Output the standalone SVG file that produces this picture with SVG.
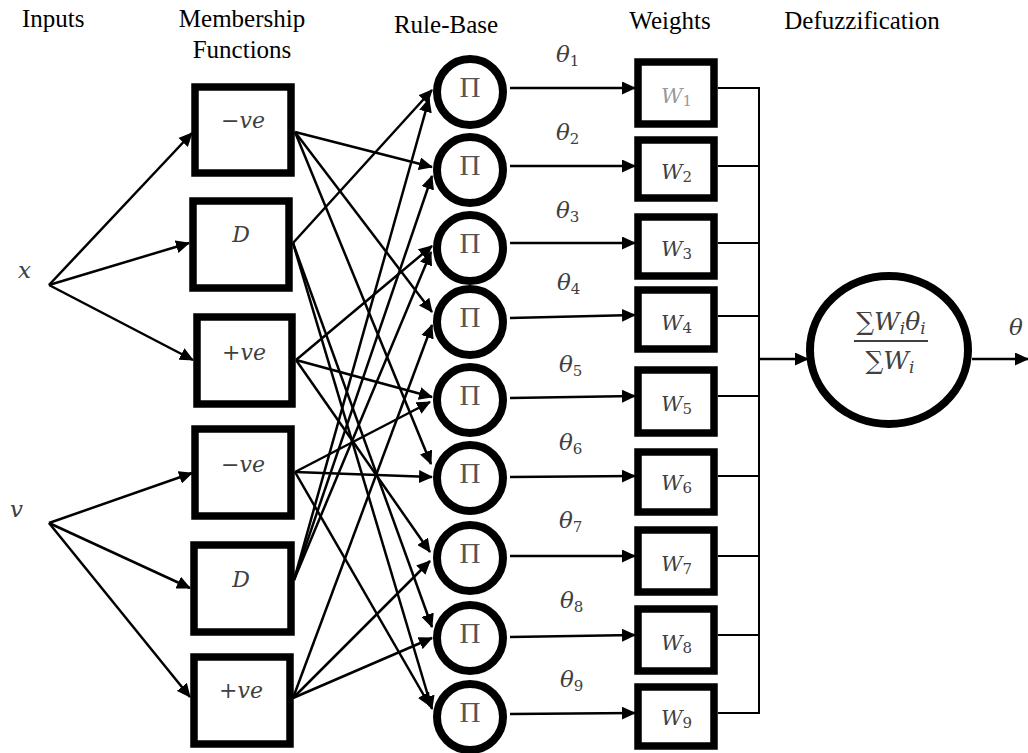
<svg xmlns="http://www.w3.org/2000/svg" width="1028" height="753" viewBox="0 0 1028 753">
<style>
.hdr{font-family:"Liberation Serif","Times New Roman",serif;font-size:25px;fill:#000}
.m{font-family:"DejaVu Serif",serif;font-style:italic;font-size:21px;fill:#404040}
.th{font-family:"DejaVu Serif",serif;font-style:italic;font-size:23px;fill:#404040}
.fm{font-family:"DejaVu Serif",serif;font-style:italic;font-size:25px;fill:#404040;text-anchor:middle}
.mc{font-family:"DejaVu Serif",serif;font-style:italic;font-size:22px;fill:#404040;text-anchor:middle}
.sub{font-size:15px;font-style:normal}
.subi{font-size:17px}
.pi{font-family:"Liberation Serif","Times New Roman",serif;font-size:29px;fill:#555;text-anchor:middle}
.box{fill:#fff;stroke:#000;stroke-width:7.5}
.node{fill:#fff;stroke:#000;stroke-width:8}
.ln{stroke:#000;stroke-width:2.5;fill:none;marker-end:url(#ah)}
.bus{stroke:#000;stroke-width:2;fill:none}
</style>
<defs>
<marker id="ah" markerUnits="userSpaceOnUse" markerWidth="14" markerHeight="13" refX="13" refY="6.5" orient="auto">
<path d="M0,0 L14,6.5 L0,13 z" fill="#000"/>
</marker>
</defs>
<rect width="1028" height="753" fill="#fff"/>
<g id="headers">
<text class="hdr" x="22" y="27">Inputs</text>
<text class="hdr" x="242" y="27" text-anchor="middle">Membership</text>
<text class="hdr" x="242" y="58" text-anchor="middle">Functions</text>
<text class="hdr" x="446" y="33" text-anchor="middle">Rule-Base</text>
<text class="hdr" x="670" y="29" text-anchor="middle">Weights</text>
<text class="hdr" x="862" y="29" text-anchor="middle">Defuzzification</text>
</g>
<g id="input-x"><text class="th" x="18" y="278">x</text></g>
<g id="input-v"><text class="th" x="10" y="517">v</text></g>
<g id="connectors">
<line class="ln" x1="49" y1="285" x2="192" y2="133"/>
<line class="ln" x1="49" y1="285" x2="189" y2="243"/>
<line class="ln" x1="49" y1="285" x2="193" y2="360"/>
<line class="ln" x1="49" y1="523" x2="192" y2="473"/>
<line class="ln" x1="49" y1="523" x2="190" y2="588"/>
<line class="ln" x1="49" y1="523" x2="190" y2="697"/>
<line class="ln" x1="295" y1="132" x2="432" y2="167"/>
<line class="ln" x1="295" y1="132" x2="432" y2="312"/>
<line class="ln" x1="295" y1="132" x2="431" y2="464"/>
<line class="ln" x1="293" y1="243" x2="432" y2="90"/>
<line class="ln" x1="293" y1="243" x2="432" y2="627"/>
<line class="ln" x1="293" y1="243" x2="432" y2="709"/>
<line class="ln" x1="296" y1="360" x2="432" y2="246"/>
<line class="ln" x1="296" y1="360" x2="432" y2="397"/>
<line class="ln" x1="296" y1="360" x2="430" y2="552"/>
<line class="ln" x1="295" y1="472" x2="430" y2="402"/>
<line class="ln" x1="295" y1="472" x2="432" y2="477"/>
<line class="ln" x1="295" y1="472" x2="430" y2="706"/>
<line class="ln" x1="294" y1="580" x2="429" y2="99"/>
<line class="ln" x1="294" y1="580" x2="432" y2="176"/>
<line class="ln" x1="294" y1="580" x2="431" y2="252"/>
<line class="ln" x1="293" y1="698" x2="432" y2="325"/>
<line class="ln" x1="293" y1="698" x2="430" y2="561"/>
<line class="ln" x1="293" y1="698" x2="432" y2="638"/>
<line class="ln" x1="510" y1="88" x2="635" y2="88"/>
<line class="ln" x1="510" y1="166" x2="635" y2="166"/>
<line class="ln" x1="510" y1="243" x2="635" y2="243"/>
<line class="ln" x1="510" y1="318" x2="635" y2="315"/>
<line class="ln" x1="510" y1="398" x2="635" y2="396"/>
<line class="ln" x1="510" y1="477" x2="635" y2="476"/>
<line class="ln" x1="510" y1="556" x2="635" y2="556"/>
<line class="ln" x1="510" y1="637" x2="635" y2="635"/>
<line class="ln" x1="510" y1="714" x2="635" y2="713"/>
<path class="bus" d="M718,88 H759 M718,166 H759 M718,243 H759 M718,316 H759 M718,396 H759 M718,476 H759 M718,556 H759 M718,635 H759 M718,713 H759 M759,87 V714"/>
<line class="ln" x1="759" y1="359" x2="808" y2="359"/>
<line class="ln" x1="972" y1="359" x2="1028" y2="359"/>
</g>
<g id="mf-x-neg"><rect class="box" x="195" y="87" width="96" height="86"/><text class="mc" x="243" y="128">−ve</text></g>
<g id="mf-x-d"><rect class="box" x="193" y="201" width="96" height="87"/><text class="mc" x="241" y="242">D</text></g>
<g id="mf-x-pos"><rect class="box" x="197" y="317" width="95" height="87"/><text class="mc" x="244" y="360">+ve</text></g>
<g id="mf-v-neg"><rect class="box" x="195" y="429" width="96" height="87"/><text class="mc" x="243" y="472">−ve</text></g>
<g id="mf-v-d"><rect class="box" x="194" y="545" width="97" height="87"/><text class="mc" x="241" y="587">D</text></g>
<g id="mf-v-pos"><rect class="box" x="194" y="657" width="96" height="87"/><text class="mc" x="241" y="698">+ve</text></g>
<g id="rule1"><circle class="node" cx="470" cy="92" r="33"/><text class="pi" x="470" y="97">Π</text></g>
<g id="rule2"><circle class="node" cx="470" cy="170" r="33"/><text class="pi" x="470" y="175">Π</text></g>
<g id="rule3"><circle class="node" cx="470" cy="248" r="33"/><text class="pi" x="470" y="253">Π</text></g>
<g id="rule4"><circle class="node" cx="470" cy="322" r="33"/><text class="pi" x="470" y="327">Π</text></g>
<g id="rule5"><circle class="node" cx="470" cy="400" r="33"/><text class="pi" x="470" y="405">Π</text></g>
<g id="rule6"><circle class="node" cx="470" cy="478" r="33"/><text class="pi" x="470" y="483">Π</text></g>
<g id="rule7"><circle class="node" cx="470" cy="558" r="33"/><text class="pi" x="470" y="563">Π</text></g>
<g id="rule8"><circle class="node" cx="470" cy="638" r="33"/><text class="pi" x="470" y="643">Π</text></g>
<g id="rule9"><circle class="node" cx="470" cy="717" r="33"/><text class="pi" x="470" y="722">Π</text></g>
<g id="theta-labels">
<text class="th" x="556" y="62">θ<tspan class="sub" dy="4">1</tspan></text>
<text class="th" x="556" y="140">θ<tspan class="sub" dy="4">2</tspan></text>
<text class="th" x="556" y="218">θ<tspan class="sub" dy="4">3</tspan></text>
<text class="th" x="557" y="290">θ<tspan class="sub" dy="4">4</tspan></text>
<text class="th" x="559" y="372">θ<tspan class="sub" dy="4">5</tspan></text>
<text class="th" x="559" y="450">θ<tspan class="sub" dy="4">6</tspan></text>
<text class="th" x="559" y="528">θ<tspan class="sub" dy="4">7</tspan></text>
<text class="th" x="560" y="608">θ<tspan class="sub" dy="4">8</tspan></text>
<text class="th" x="560" y="687">θ<tspan class="sub" dy="4">9</tspan></text>
</g>
<g id="w1"><rect class="box" x="638" y="62" width="76" height="62"/><text class="m" x="661" y="103" style="fill:#999">W<tspan class="sub" dy="3">1</tspan></text></g>
<g id="w2"><rect class="box" x="638" y="140" width="76" height="58"/><text class="m" x="661" y="179">W<tspan class="sub" dy="3">2</tspan></text></g>
<g id="w3"><rect class="box" x="638" y="217" width="76" height="59"/><text class="m" x="661" y="256">W<tspan class="sub" dy="3">3</tspan></text></g>
<g id="w4"><rect class="box" x="638" y="290" width="76" height="59"/><text class="m" x="661" y="330">W<tspan class="sub" dy="3">4</tspan></text></g>
<g id="w5"><rect class="box" x="638" y="370" width="76" height="63"/><text class="m" x="661" y="411">W<tspan class="sub" dy="3">5</tspan></text></g>
<g id="w6"><rect class="box" x="638" y="452" width="76" height="60"/><text class="m" x="661" y="490">W<tspan class="sub" dy="3">6</tspan></text></g>
<g id="w7"><rect class="box" x="638" y="530" width="76" height="62"/><text class="m" x="661" y="571">W<tspan class="sub" dy="3">7</tspan></text></g>
<g id="w8"><rect class="box" x="638" y="609" width="76" height="62"/><text class="m" x="661" y="650">W<tspan class="sub" dy="3">8</tspan></text></g>
<g id="w9"><rect class="box" x="638" y="687" width="76" height="59"/><text class="m" x="661" y="725">W<tspan class="sub" dy="3">9</tspan></text></g>
<g id="defuzz">
<ellipse class="node" cx="889" cy="350" rx="79" ry="74"/>
<text class="fm" x="891" y="330">∑W<tspan class="subi" dy="4">i</tspan><tspan dy="-4">θ</tspan><tspan class="subi" dy="4">i</tspan></text>
<line x1="854" y1="341" x2="928" y2="341" stroke="#404040" stroke-width="2"/>
<text class="fm" x="890" y="369">∑W<tspan class="subi" dy="4">i</tspan></text>
</g>
<g id="output"><text class="th" x="1009" y="335">θ</text></g>
</svg>
